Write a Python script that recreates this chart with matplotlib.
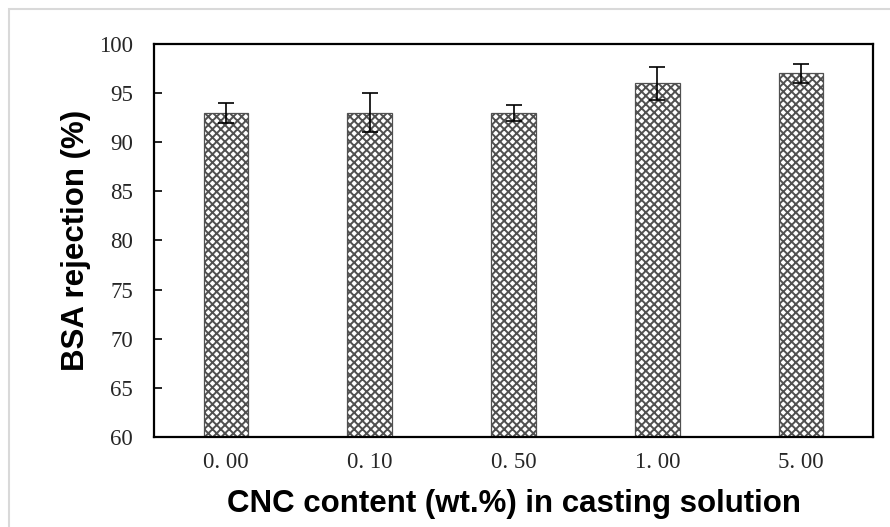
import matplotlib.pyplot as plt
import matplotlib.patches as mpatches

# data
cnc_labels = ['0. 00', '0. 10', '0. 50', '1. 00', '5. 00']
rejection = [93.0, 93.0, 93.0, 96.0, 97.0]
rejection_err = [1.0, 2.0, 0.8, 1.7, 1.0]
y_ticks = [60, 65, 70, 75, 80, 85, 90, 95, 100]

plt.rcParams['hatch.linewidth'] = 1.4
plt.rcParams['hatch.color'] = 'black'

fig = plt.figure(figsize=(8.9, 5.27), dpi=100)
ax = fig.add_axes([0.173, 0.1708, 0.808, 0.7457])

# light grey chart-area frame like the Excel export
fig.patches.append(mpatches.Rectangle((9 / 890, -0.02), 1.0, 1 - 9 / 527 + 0.02,
                                      transform=fig.transFigure, fill=False,
                                      edgecolor='#d9d9d9', linewidth=1.5))

x = range(len(cnc_labels))
ax.bar(x, rejection, width=0.31, color='white', edgecolor='#505050',
       linewidth=0.9, hatch='xxxx', zorder=2)
ax.errorbar(x, rejection, yerr=rejection_err, fmt='none', ecolor='black',
            elinewidth=1.2, capsize=6, capthick=1.2, zorder=3)

ax.set_xlim(-0.5, len(cnc_labels) - 0.5)
ax.set_ylim(60, 100)
ax.set_yticks(y_ticks)
ax.set_xticks(list(x))
ax.set_xticklabels(cnc_labels)

for sp in ax.spines.values():
    sp.set_linewidth(1.6)
    sp.set_color('black')

ax.tick_params(axis='y', direction='in', length=6, width=1.2, pad=15,
               labelsize=16.5, labelcolor='#262626')
ax.tick_params(axis='x', length=0, pad=11, labelsize=16.5, labelcolor='#262626')
for lab in ax.get_xticklabels() + ax.get_yticklabels():
    lab.set_family('Liberation Serif')

ax.set_xlabel('CNC content (wt.%) in casting solution', fontsize=22.5,
              fontweight='bold', family='Liberation Sans', labelpad=11)
ax.set_ylabel('BSA rejection (%)', fontsize=22.5, fontweight='bold',
              family='Liberation Sans', labelpad=6)

fig.savefig('out.png', dpi=100)
